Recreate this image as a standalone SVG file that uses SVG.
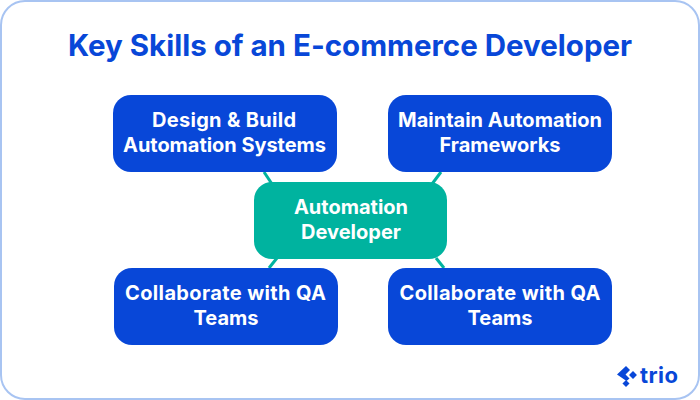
<svg xmlns="http://www.w3.org/2000/svg" width="700" height="400" viewBox="0 0 700 400">
<style>
.t{font-family:Inter,"Liberation Sans",sans-serif;font-weight:700;text-anchor:middle}
.n{font-size:20px;fill:#fff}
.b{fill:#0847d8}
.c{stroke:#00b39f;stroke-width:3;fill:none}
</style>
<rect x="1" y="1" width="698" height="398" rx="24" fill="#fff" stroke="#a8c4f2" stroke-width="2"/>
<text class="t" x="350" y="55.5" font-size="29.5" fill="#0847d8">Key Skills of an E-commerce Developer</text>
<g id="connectors">
<line class="c" x1="264" y1="172" x2="272" y2="184"/>
<line class="c" x1="441" y1="172" x2="432" y2="184"/>
<line class="c" x1="277" y1="258" x2="269" y2="268"/>
<line class="c" x1="436" y1="258" x2="444" y2="268"/>
</g>
<g id="node-design"><rect class="b" x="113" y="95" width="224" height="77" rx="18"/>
<text class="t n" x="224" y="127" textLength="144">Design &amp; Build</text><text class="t n" x="224.500" y="152" textLength="203">Automation Systems</text></g>
<g id="node-maintain"><rect class="b" x="388" y="95" width="224" height="77" rx="18"/>
<text class="t n" x="500" y="127" textLength="204">Maintain Automation</text><text class="t n" x="500" y="152">Frameworks</text></g>
<g id="node-center"><rect x="254" y="182" width="193" height="77" rx="18" fill="#00b39f"/>
<text class="t n" x="351" y="214">Automation</text><text class="t n" x="351" y="239">Developer</text></g>
<g id="node-collab1"><rect class="b" x="114" y="268" width="224" height="77" rx="18"/>
<text class="t n" x="225.500" y="300" textLength="201">Collaborate with QA</text><text class="t n" x="226" y="325">Teams</text></g>
<g id="node-collab2"><rect class="b" x="388" y="268" width="224" height="77" rx="18"/>
<text class="t n" x="500" y="300" textLength="201">Collaborate with QA</text><text class="t n" x="500" y="325">Teams</text></g>
<g id="logo" fill="#0847d8">
<path d="M617 374.500 L626 366 L630 370 L625.500 374.500 L629.500 378.500 L626.500 381 Z"/>
<rect x="-2.800" y="-2.800" width="5.600" height="5.600" transform="translate(633 375) rotate(45)"/>
<rect x="-2.500" y="-2.500" width="5" height="5" transform="translate(626 383.500) rotate(45)"/>
<text x="640" y="382.500" font-family="Inter,'Liberation Sans',sans-serif" font-weight="700" font-size="22" textLength="38" fill="#0847d8">trio</text>
</g>
</svg>
